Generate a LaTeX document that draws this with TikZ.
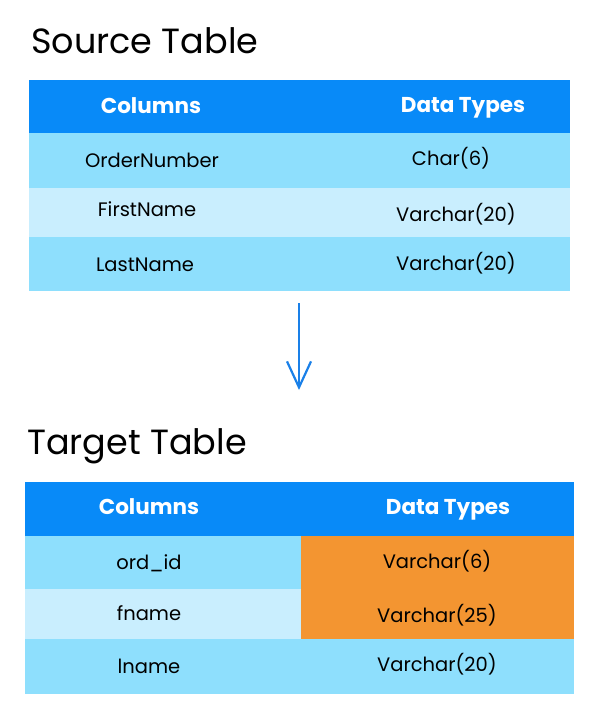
\documentclass[tikz,border=0pt]{standalone}
\usepackage{fontspec}
\setmainfont{Poppins}
\usetikzlibrary{arrows.meta}
\definecolor{hdrblue}{RGB}{8,138,248}
\definecolor{rowdark}{RGB}{142,223,253}
\definecolor{rowlight}{RGB}{201,238,254}
\definecolor{chgorange}{RGB}{243,149,49}
\definecolor{arrblue}{RGB}{26,128,232}
\begin{document}
\begin{tikzpicture}[x=1pt, y=-1pt,
  cell/.style={inner sep=0pt, outer sep=0pt, anchor=north west},
  hdrtxt/.style={text=white, font=\fontsize{21.5}{21.5}\selectfont\bfseries},
  bodytxt/.style={text=black, font=\fontsize{19.5}{19.5}\selectfont},
  titletxt/.style={anchor=base west, inner sep=0pt, font=\fontsize{35}{35}\selectfont}]
\useasboundingbox (0,0) rectangle (595,728);
% source table
\node[titletxt] (srcT) at (31,53) {Source Table};
\node[cell, fill=hdrblue, minimum width=541, minimum height=53] (srcH) at (29,80) {};
\node[cell, fill=rowdark, minimum width=541, minimum height=55] (srcR1) at (29,133) {};
\node[cell, fill=rowlight, minimum width=541, minimum height=49] (srcR2) at (29,188) {};
\node[cell, fill=rowdark, minimum width=541, minimum height=54] (srcR3) at (29,237) {};
\node[hdrtxt] (srcHc) at (151,106) {Columns};
\node[hdrtxt] (srcHt) at (463,108) {Data Types};
\node[bodytxt] (srcC1) at (152,160) {OrderNumber};
\node[bodytxt] (srcT1) at (451,158) {Char(6)};
\node[bodytxt] (srcC2) at (147,209) {FirstName};
\node[bodytxt] (srcT2) at (456,214) {Varchar(20)};
\node[bodytxt] (srcC3) at (145,265) {LastName};
\node[bodytxt] (srcT3) at (456,263) {Varchar(20)};
% arrow
\coordinate (arrS) at (299,303);
\coordinate (arrE) at (299,390);
\draw[arrblue, line width=2.2pt, -{Straight Barb[length=26pt, width=24pt, line width=2.2pt]}] (arrS) -- (arrE);
% target table
\node[titletxt] (tgtT) at (27,454) {Target Table};
\node[cell, fill=hdrblue, minimum width=549, minimum height=54] (tgtH) at (25,482) {};
\node[cell, fill=rowdark, minimum width=549, minimum height=53] (tgtR1) at (25,536) {};
\node[cell, fill=rowlight, minimum width=549, minimum height=50] (tgtR2) at (25,589) {};
\node[cell, fill=rowdark, minimum width=549, minimum height=55] (tgtR3) at (25,639) {};
\node[cell, fill=chgorange, minimum width=273, minimum height=103] (tgtO) at (301,536) {};
\node[hdrtxt] (tgtHc) at (149,507) {Columns};
\node[hdrtxt] (tgtHt) at (448,510) {Data Types};
\node[bodytxt] (tgtC1) at (149,563) {ord\_id};
\node[bodytxt] (tgtT1) at (437,561) {Varchar(6)};
\node[bodytxt] (tgtC2) at (149,613) {fname};
\node[bodytxt] (tgtT2) at (437,615) {Varchar(25)};
\node[bodytxt] (tgtC3) at (149,666) {lname};
\node[bodytxt] (tgtT3) at (437,664) {Varchar(20)};
\end{tikzpicture}
\end{document}
